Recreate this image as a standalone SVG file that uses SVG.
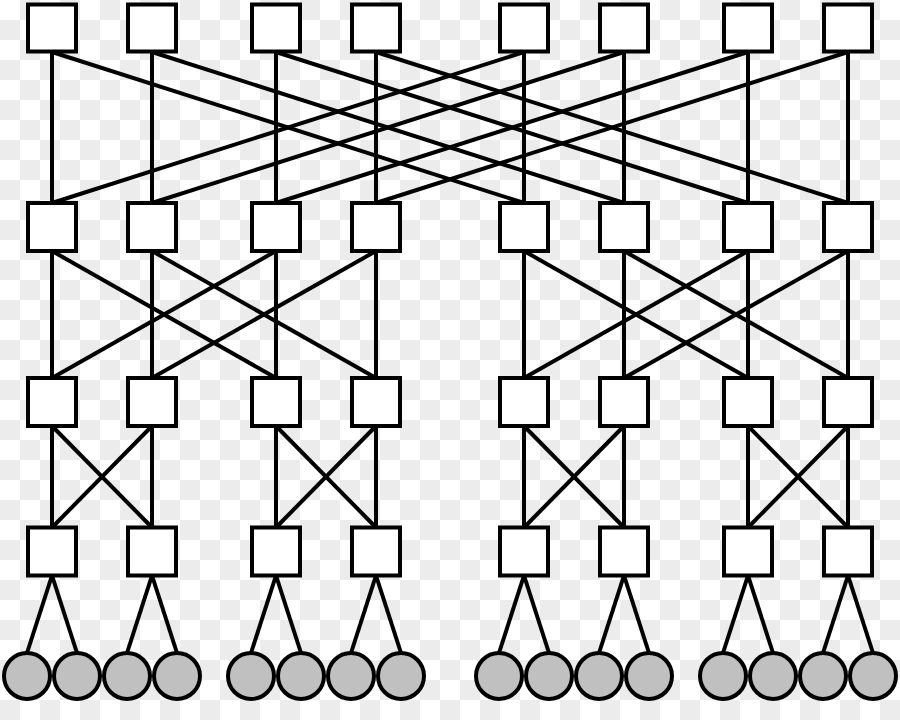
<svg xmlns="http://www.w3.org/2000/svg" width="900" height="720" viewBox="0 0 900 720">
<style>
.sw{fill:#fff;stroke:#000;stroke-width:4}
.ci{fill:#c0c0c0;stroke:#000;stroke-width:4}
#connectors line{stroke:#000;stroke-width:4;stroke-linecap:butt}
</style>
<defs>
<pattern id="chk" width="40" height="40" patternUnits="userSpaceOnUse">
<rect width="40" height="40" fill="#fff"/>
<rect x="20" y="0" width="20" height="20" fill="#ececec"/>
<rect x="0" y="20" width="20" height="20" fill="#ececec"/>
</pattern>
</defs>
<rect width="900" height="720" fill="url(#chk)"/>
<g id="connectors">
<!-- row1 to row2 -->
<line x1="52" y1="52" x2="52" y2="203"/>
<line x1="152" y1="52" x2="152" y2="203"/>
<line x1="276" y1="52" x2="276" y2="203"/>
<line x1="376" y1="52" x2="376" y2="203"/>
<line x1="524" y1="52" x2="524" y2="203"/>
<line x1="624" y1="52" x2="624" y2="203"/>
<line x1="748" y1="52" x2="748" y2="203"/>
<line x1="848" y1="52" x2="848" y2="203"/>
<line x1="52" y1="52" x2="524" y2="203"/>
<line x1="152" y1="52" x2="624" y2="203"/>
<line x1="276" y1="52" x2="748" y2="203"/>
<line x1="376" y1="52" x2="848" y2="203"/>
<line x1="524" y1="52" x2="52" y2="203"/>
<line x1="624" y1="52" x2="152" y2="203"/>
<line x1="748" y1="52" x2="276" y2="203"/>
<line x1="848" y1="52" x2="376" y2="203"/>
<!-- row2 to row3 -->
<line x1="52" y1="251" x2="52" y2="378"/>
<line x1="152" y1="251" x2="152" y2="378"/>
<line x1="276" y1="251" x2="276" y2="378"/>
<line x1="376" y1="251" x2="376" y2="378"/>
<line x1="524" y1="251" x2="524" y2="378"/>
<line x1="624" y1="251" x2="624" y2="378"/>
<line x1="748" y1="251" x2="748" y2="378"/>
<line x1="848" y1="251" x2="848" y2="378"/>
<line x1="52" y1="251" x2="276" y2="378"/>
<line x1="152" y1="251" x2="376" y2="378"/>
<line x1="276" y1="251" x2="52" y2="378"/>
<line x1="376" y1="251" x2="152" y2="378"/>
<line x1="524" y1="251" x2="748" y2="378"/>
<line x1="624" y1="251" x2="848" y2="378"/>
<line x1="748" y1="251" x2="524" y2="378"/>
<line x1="848" y1="251" x2="624" y2="378"/>
<!-- row3 to row4 -->
<line x1="52" y1="426" x2="52" y2="527.5"/>
<line x1="152" y1="426" x2="152" y2="527.5"/>
<line x1="276" y1="426" x2="276" y2="527.5"/>
<line x1="376" y1="426" x2="376" y2="527.5"/>
<line x1="524" y1="426" x2="524" y2="527.5"/>
<line x1="624" y1="426" x2="624" y2="527.5"/>
<line x1="748" y1="426" x2="748" y2="527.5"/>
<line x1="848" y1="426" x2="848" y2="527.5"/>
<line x1="52" y1="426" x2="152" y2="527.5"/>
<line x1="152" y1="426" x2="52" y2="527.5"/>
<line x1="276" y1="426" x2="376" y2="527.5"/>
<line x1="376" y1="426" x2="276" y2="527.5"/>
<line x1="524" y1="426" x2="624" y2="527.5"/>
<line x1="624" y1="426" x2="524" y2="527.5"/>
<line x1="748" y1="426" x2="848" y2="527.5"/>
<line x1="848" y1="426" x2="748" y2="527.5"/>
<!-- row4 to hosts -->
<line x1="52" y1="575.5" x2="27" y2="653"/>
<line x1="52" y1="575.5" x2="77" y2="653"/>
<line x1="152" y1="575.5" x2="127" y2="653"/>
<line x1="152" y1="575.5" x2="177" y2="653"/>
<line x1="276" y1="575.5" x2="251" y2="653"/>
<line x1="276" y1="575.5" x2="301" y2="653"/>
<line x1="376" y1="575.5" x2="351" y2="653"/>
<line x1="376" y1="575.5" x2="401" y2="653"/>
<line x1="524" y1="575.5" x2="499" y2="653"/>
<line x1="524" y1="575.5" x2="549" y2="653"/>
<line x1="624" y1="575.5" x2="599" y2="653"/>
<line x1="624" y1="575.5" x2="649" y2="653"/>
<line x1="748" y1="575.5" x2="723" y2="653"/>
<line x1="748" y1="575.5" x2="773" y2="653"/>
<line x1="848" y1="575.5" x2="823" y2="653"/>
<line x1="848" y1="575.5" x2="873" y2="653"/>
</g>
<!-- row 1 -->
<g id="s1-1"><rect class="sw" x="28" y="4.5" width="48" height="47"/></g>
<g id="s1-2"><rect class="sw" x="128" y="4.5" width="48" height="47"/></g>
<g id="s1-3"><rect class="sw" x="252" y="4.5" width="48" height="47"/></g>
<g id="s1-4"><rect class="sw" x="352" y="4.5" width="48" height="47"/></g>
<g id="s1-5"><rect class="sw" x="500" y="4.5" width="48" height="47"/></g>
<g id="s1-6"><rect class="sw" x="600" y="4.5" width="48" height="47"/></g>
<g id="s1-7"><rect class="sw" x="724" y="4.5" width="48" height="47"/></g>
<g id="s1-8"><rect class="sw" x="824" y="4.5" width="48" height="47"/></g>
<!-- row 2 -->
<g id="s2-1"><rect class="sw" x="28" y="203" width="48" height="48"/></g>
<g id="s2-2"><rect class="sw" x="128" y="203" width="48" height="48"/></g>
<g id="s2-3"><rect class="sw" x="252" y="203" width="48" height="48"/></g>
<g id="s2-4"><rect class="sw" x="352" y="203" width="48" height="48"/></g>
<g id="s2-5"><rect class="sw" x="500" y="203" width="48" height="48"/></g>
<g id="s2-6"><rect class="sw" x="600" y="203" width="48" height="48"/></g>
<g id="s2-7"><rect class="sw" x="724" y="203" width="48" height="48"/></g>
<g id="s2-8"><rect class="sw" x="824" y="203" width="48" height="48"/></g>
<!-- row 3 -->
<g id="s3-1"><rect class="sw" x="28" y="378" width="48" height="48"/></g>
<g id="s3-2"><rect class="sw" x="128" y="378" width="48" height="48"/></g>
<g id="s3-3"><rect class="sw" x="252" y="378" width="48" height="48"/></g>
<g id="s3-4"><rect class="sw" x="352" y="378" width="48" height="48"/></g>
<g id="s3-5"><rect class="sw" x="500" y="378" width="48" height="48"/></g>
<g id="s3-6"><rect class="sw" x="600" y="378" width="48" height="48"/></g>
<g id="s3-7"><rect class="sw" x="724" y="378" width="48" height="48"/></g>
<g id="s3-8"><rect class="sw" x="824" y="378" width="48" height="48"/></g>
<!-- row 4 -->
<g id="s4-1"><rect class="sw" x="28" y="527.5" width="48" height="48"/></g>
<g id="s4-2"><rect class="sw" x="128" y="527.5" width="48" height="48"/></g>
<g id="s4-3"><rect class="sw" x="252" y="527.5" width="48" height="48"/></g>
<g id="s4-4"><rect class="sw" x="352" y="527.5" width="48" height="48"/></g>
<g id="s4-5"><rect class="sw" x="500" y="527.5" width="48" height="48"/></g>
<g id="s4-6"><rect class="sw" x="600" y="527.5" width="48" height="48"/></g>
<g id="s4-7"><rect class="sw" x="724" y="527.5" width="48" height="48"/></g>
<g id="s4-8"><rect class="sw" x="824" y="527.5" width="48" height="48"/></g>
<!-- hosts -->
<g id="h1"><circle class="ci" cx="27" cy="676" r="23"/></g>
<g id="h2"><circle class="ci" cx="77" cy="676" r="23"/></g>
<g id="h3"><circle class="ci" cx="127" cy="676" r="23"/></g>
<g id="h4"><circle class="ci" cx="177" cy="676" r="23"/></g>
<g id="h5"><circle class="ci" cx="251" cy="676" r="23"/></g>
<g id="h6"><circle class="ci" cx="301" cy="676" r="23"/></g>
<g id="h7"><circle class="ci" cx="351" cy="676" r="23"/></g>
<g id="h8"><circle class="ci" cx="401" cy="676" r="23"/></g>
<g id="h9"><circle class="ci" cx="499" cy="676" r="23"/></g>
<g id="h10"><circle class="ci" cx="549" cy="676" r="23"/></g>
<g id="h11"><circle class="ci" cx="599" cy="676" r="23"/></g>
<g id="h12"><circle class="ci" cx="649" cy="676" r="23"/></g>
<g id="h13"><circle class="ci" cx="723" cy="676" r="23"/></g>
<g id="h14"><circle class="ci" cx="773" cy="676" r="23"/></g>
<g id="h15"><circle class="ci" cx="823" cy="676" r="23"/></g>
<g id="h16"><circle class="ci" cx="873" cy="676" r="23"/></g>
</svg>
